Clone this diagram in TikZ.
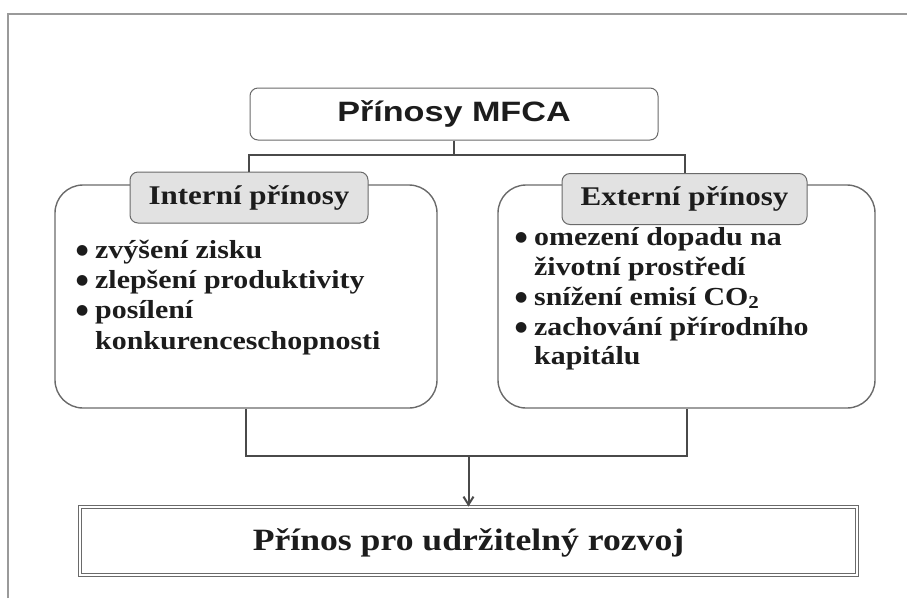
\documentclass[tikz,border=0pt]{standalone}
\usepackage{fontspec}
\setmainfont{Liberation Serif}[FakeStretch=1.15]
\newfontfamily\titlefont{Liberation Sans}[FakeStretch=1.22]
\newfontfamily\dejavu{DejaVu Sans}
\usetikzlibrary{arrows.meta}
\definecolor{frameg}{HTML}{9A9A9A}
\definecolor{boxline}{HTML}{6A6A6A}
\definecolor{labfill}{HTML}{E2E2E2}
\definecolor{conng}{HTML}{4A4A4A}
\definecolor{ink}{HTML}{1C1C1C}
\tikzset{
  titlebox/.style={draw=boxline, line width=1pt, rounded corners=8pt, fill=white,
    minimum width=408pt, minimum height=52pt, inner sep=0pt, text=ink,
    font=\titlefont\fontsize{28}{30}\selectfont\bfseries},
  bigbox/.style={draw=boxline, line width=1.4pt, rounded corners=28pt, fill=white,
    minimum height=223pt, inner sep=0pt},
  labbox/.style={draw=boxline, line width=1pt, rounded corners=8pt, fill=labfill,
    minimum height=51pt, inner sep=0pt, text=ink,
    font=\fontsize{27}{30}\selectfont\bfseries},
  item/.style={anchor=base west, inner sep=0pt, text=ink,
    font=\fontsize{26}{30}\selectfont\bfseries},
  resbox/.style={draw=boxline, line width=1pt, double=white, double distance=2pt,
    minimum width=777pt, minimum height=68pt, inner sep=0pt, text=ink,
    text depth=2pt, font=\fontsize{31}{34}\selectfont\bfseries},
  conn/.style={draw=conng, line width=2pt},
  framel/.style={draw=frameg, line width=1.6pt}
}
\newcommand{\bul}{\makebox[19pt][l]{\raisebox{3.5pt}{\dejavu\fontsize{14}{14}\selectfont ●}}}
\begin{document}
\begin{tikzpicture}[x=1pt,y=-1pt]
\useasboundingbox (0,0) rectangle (907,598);
\coordinate (fb) at (8,598);
\coordinate (fc) at (8,14);
\coordinate (fr) at (907,14);
\draw[framel] (fb) -- (fc) -- (fr);

\node[titlebox] (title) at (454,114) {Přínosy MFCA};

\node[bigbox, minimum width=382pt] (lbig) at (246,296.5) {};
\node[bigbox, minimum width=377pt] (rbig) at (686.5,296.5) {};

\node[labbox, minimum width=238pt] (llab) at (249,197.5) {Interní přínosy};
\node[labbox, minimum width=245pt] (rlab) at (684.5,199) {Externí přínosy};

\coordinate (jt) at (454,155);
\coordinate (jl) at (llab.north |- jt);
\coordinate (jr) at (rlab.north |- jt);
\draw[conn] (title.south) -- (jt);
\draw[conn] (llab.north) -- (jl) -- (jr) -- (rlab.north);

\node[item] (l1) at (76,258) {\bul zvýšení zisku};
\node[item] (l2) at (76,288) {\bul zlepšení produktivity};
\node[item] (l3) at (76,318) {\bul posílení};
\node[item] (l4) at (95,349) {konkurenceschopnosti};

\node[item] (r1) at (515,245) {\bul omezení dopadu na};
\node[item] (r2) at (534,275) {životní prostředí};
\node[item] (r3) at (515,305) {\bul snížení emisí CO\textsubscript{2}};
\node[item] (r4) at (515,335) {\bul zachování přírodního};
\node[item] (r5) at (534,364) {kapitálu};

\node[resbox] (res) at (468.5,541) {Přínos pro udržitelný rozvoj};

\coordinate (bj) at (res.north |- 0,456);
\draw[conn] (lbig.south) |- (rbig.south |- bj) -- (rbig.south);
\draw[conn, -{Straight Barb[length=8pt,width=10pt]}] (bj) -- (res.north);
\end{tikzpicture}
\end{document}
